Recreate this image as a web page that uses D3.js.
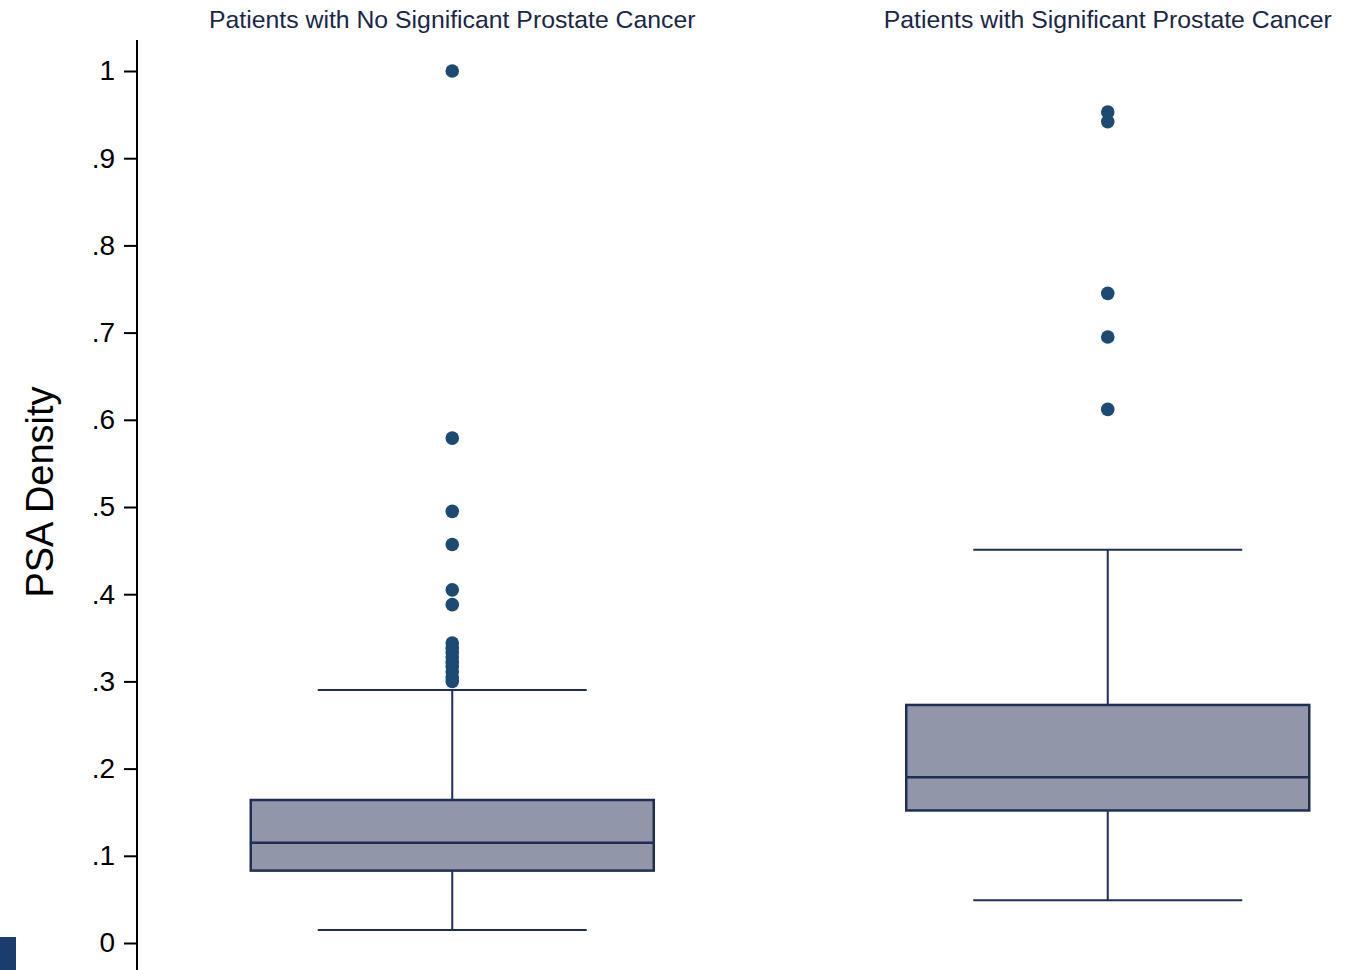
<!DOCTYPE html>
<html>
<head>
<meta charset="utf-8">
<script src="https://cdn.jsdelivr.net/npm/d3@7"></script>
<style>
  html, body { margin: 0; padding: 0; background: #fff; }
  svg { display: block; }
</style>
</head>
<body>
<svg id="chart" width="1360" height="970"></svg>
<script>
// Groups and their box-plot summaries (PSA density)
const groups = ["Patients with No Significant Prostate Cancer", "Patients with Significant Prostate Cancer"];
const whiskerLow = [0.015, 0.049];
const q1 = [0.083, 0.152];
const median = [0.115, 0.190];
const q3 = [0.164, 0.273];
const whiskerHigh = [0.290, 0.451];

// Outside values per group
const outliersNoSig = [1.0, 0.579, 0.495, 0.457, 0.405, 0.388, 0.344, 0.338, 0.333, 0.328, 0.322, 0.317, 0.311, 0.305, 0.300];
const outliersSig = [0.953, 0.942, 0.745, 0.695, 0.612];
const outliers = [outliersNoSig, outliersSig];

const yTicks = [0, 0.1, 0.2, 0.3, 0.4, 0.5, 0.6, 0.7, 0.8, 0.9, 1];
const yTitle = "PSA Density";

const svg = d3.select("#chart");
const font = "'Liberation Sans', Arial, sans-serif";

const y = d3.scaleLinear().domain([0, 1]).range([943, 71]);
const x = d3.scaleBand().domain(groups).range([125, 1436]).paddingInner(0).paddingOuter(0);
const boxW = 403, capW = 269;
const cx = g => x(g) + x.bandwidth() / 2 - 0.5;

const boxFill = "#9196a9", boxStroke = "#1f2e56", dotColor = "#1b4a73";

// Y axis
const axis = d3.axisLeft(y).tickValues(yTicks).tickSize(13).tickPadding(9)
  .tickFormat(d => d === 0 ? "0" : d === 1 ? "1" : d3.format(".1f")(d).replace(/^0/, ""));
const ag = svg.append("g").attr("transform", "translate(137,0)").call(axis);
ag.select(".domain").remove();
ag.append("line").attr("x1", 0).attr("x2", 0).attr("y1", 40).attr("y2", 970)
  .attr("stroke", "#000").attr("stroke-width", 2);
ag.selectAll(".tick line").attr("stroke", "#000").attr("stroke-width", 2);
ag.selectAll(".tick text").attr("font-family", font).attr("font-size", 28).attr("fill", "#000");

svg.append("text")
  .attr("transform", "translate(53,492) rotate(-90)")
  .attr("text-anchor", "middle")
  .attr("font-family", font).attr("font-size", 38).attr("fill", "#000")
  .text(yTitle);

// Boxes
groups.forEach((g, i) => {
  const c = cx(g);
  const gg = svg.append("g");
  // whiskers
  gg.append("line").attr("x1", c).attr("x2", c).attr("y1", y(q3[i])).attr("y2", y(whiskerHigh[i]))
    .attr("stroke", boxStroke).attr("stroke-width", 2);
  gg.append("line").attr("x1", c).attr("x2", c).attr("y1", y(q1[i])).attr("y2", y(whiskerLow[i]))
    .attr("stroke", boxStroke).attr("stroke-width", 2);
  [whiskerHigh[i], whiskerLow[i]].forEach(v => {
    gg.append("line").attr("x1", c - capW / 2).attr("x2", c + capW / 2).attr("y1", y(v)).attr("y2", y(v))
      .attr("stroke", boxStroke).attr("stroke-width", 2);
  });
  // box
  gg.append("rect").attr("x", c - boxW / 2).attr("y", y(q3[i]))
    .attr("width", boxW).attr("height", y(q1[i]) - y(q3[i]))
    .attr("fill", boxFill).attr("stroke", boxStroke).attr("stroke-width", 2.5);
  gg.append("line").attr("x1", c - boxW / 2).attr("x2", c + boxW / 2).attr("y1", y(median[i])).attr("y2", y(median[i]))
    .attr("stroke", boxStroke).attr("stroke-width", 2.5);
  // outside values
  gg.selectAll("circle").data(outliers[i]).join("circle")
    .attr("cx", c).attr("cy", d => y(d)).attr("r", 6.8).attr("fill", dotColor);
  // group title
  svg.append("text").attr("x", c).attr("y", 28).attr("text-anchor", "middle")
    .attr("font-family", font).attr("font-size", 24.8).attr("fill", "#1a2748")
    .text(g);
});

// partial legend key at the lower edge
svg.append("rect").attr("x", 0).attr("y", 937).attr("width", 16).attr("height", 40).attr("fill", "#1b3d6e");
</script>
</body>
</html>
